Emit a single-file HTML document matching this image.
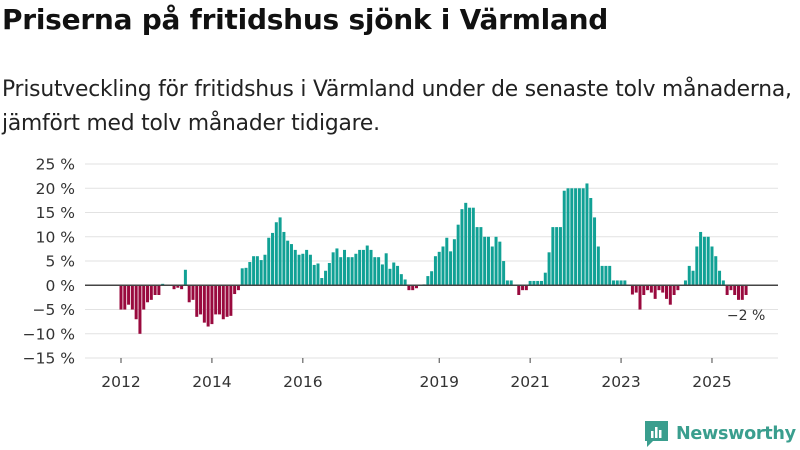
<!DOCTYPE html>
<html><head><meta charset="utf-8"><style>
body{margin:0;width:800px;height:450px;background:#fff;font-family:"Liberation Sans","DejaVu Sans",sans-serif;color:#222;overflow:hidden;position:relative}
h1{position:absolute;left:2px;top:3px;margin:0;font-size:28px;font-weight:bold;color:#111;font-family:"DejaVu Sans",sans-serif;letter-spacing:-0.25px}
p{position:absolute;left:2px;top:73px;margin:0;font-size:21.8px;line-height:34px;color:#222;font-family:"DejaVu Sans",sans-serif;letter-spacing:-0.2px}
svg{position:absolute;left:0;top:0}
</style></head><body>
<h1>Priserna på fritidshus sjönk i Värmland</h1>
<p>Prisutveckling för fritidshus i Värmland under de senaste tolv månaderna,<br>jämfört med tolv månader tidigare.</p>
<svg id="c" width="800" height="450"></svg>
<script>
const yTicks=[25,20,15,10,5,0,-5,-10,-15];
const xTickYears=[2012,2014,2016,2019,2021,2023,2025];
const values=[-5,-5,-4,-5,-7,-10,-5,-3.5,-3,-2,-2,0.3,0,0,-0.8,-0.5,-0.8,3.2,-3.5,-3,-6.5,-6,-7.7,-8.5,-8,-6,-6,-7,-6.5,-6.3,-1.8,-1,3.5,3.6,4.8,6,6,5.2,6.3,9.8,10.8,13,14,11,9.2,8.5,7.3,6.3,6.5,7.3,6.3,4.2,4.5,1.5,3,4.6,
6.8,7.6,5.8,7.3,5.8,5.8,6.5,7.3,7.3,8.2,7.3,5.8,5.8,4.3,6.6,3.4,4.7,4,2.3,1.2,-1,-1,-0.6,0,0.2,1.9,2.9,6,6.9,8,9.8,7,9.5,12.5,15.7,17,16,16,12,12,10,10,8,10,9,5,1,1,0,-2,-1,-1,0.9,0.9,0.9,0.9,2.6,6.8,
12,12,12,19.5,20,20,20,20,20,21,18,14,8,4,4,4,1,1,1,1,0,-1.9,-1.5,-5,-2,-1,-1.5,-2.8,-1,-1.5,-2.8,-4,-2,-1,0,1,4,3,8,11,10,10,8,6,3,1,-2,-1,-2,-3,-3,-2];
const startYear=2012;
const lastLabel="−2 %";
const NS="http://www.w3.org/2000/svg";
const svg=document.getElementById('c');
const y=v=>285.3-v*4.85;
const x=t=>121+(t-2012)*45.46;
function mk(tag,attrs){const e=document.createElementNS(NS,tag);for(const k in attrs)e.setAttribute(k,attrs[k]);svg.appendChild(e);return e;}
yTicks.forEach(v=>{
 const g=mk('line',{x1:85,x2:778,y1:y(v),y2:y(v),stroke:'#e2e2e2','stroke-width':1});
 
 
 const t=mk('text',{x:75,y:y(v)+5.5,'text-anchor':'end','font-size':15.5,fill:'#333','font-family':'DejaVu Sans,sans-serif'});
 t.textContent=(v<0?'−'+(-v):v)+' %';
 
 
});
xTickYears.forEach(yr=>{
 const l=mk('line',{x1:x(yr),x2:x(yr),y1:358,y2:363,stroke:'#444','stroke-width':1});
 
 
 const t=mk('text',{x:x(yr),y:387,'text-anchor':'middle','font-size':15.5,fill:'#333','font-family':'DejaVu Sans,sans-serif'});
 t.textContent=yr;
 
 
});
values.forEach((v,i)=>{
 const cx=x(startYear+i/12);
 const r=mk('rect',{x:cx-1.5,width:3,y:Math.min(y(v),y(0)),height:Math.max(Math.abs(y(v)-y(0)),0.01),fill:v>=0?'#11a195':'#990a3e'});
 
 
});
const z=mk('line',{x1:85,x2:778,y1:y(0),y2:y(0),stroke:'#444','stroke-width':1.5});


const lv=values[values.length-1];
const lt=mk('text',{x:x(startYear+(values.length-1)/12),y:y(lv)+25,'text-anchor':'middle','font-size':14,fill:'#333','font-family':'DejaVu Sans,sans-serif'});
lt.textContent=lastLabel;


</script>
<div style="position:absolute;left:644px;top:419px;display:flex;align-items:center">
 <svg width="26" height="30" style="position:static"><path d="M1 2h23v20H9l-6 6v-6H1z" fill="#3a9e8e"/><rect x="7" y="12" width="2.5" height="7" fill="#fff"/><rect x="11" y="8" width="2.5" height="11" fill="#fff"/><rect x="15" y="11" width="2.5" height="8" fill="#fff"/></svg>
 <span style="font-size:17.6px;font-weight:bold;color:#3a9e8e;margin-left:6px;font-family:'DejaVu Sans',sans-serif;letter-spacing:-0.3px">Newsworthy</span>
</div>
</body></html>
